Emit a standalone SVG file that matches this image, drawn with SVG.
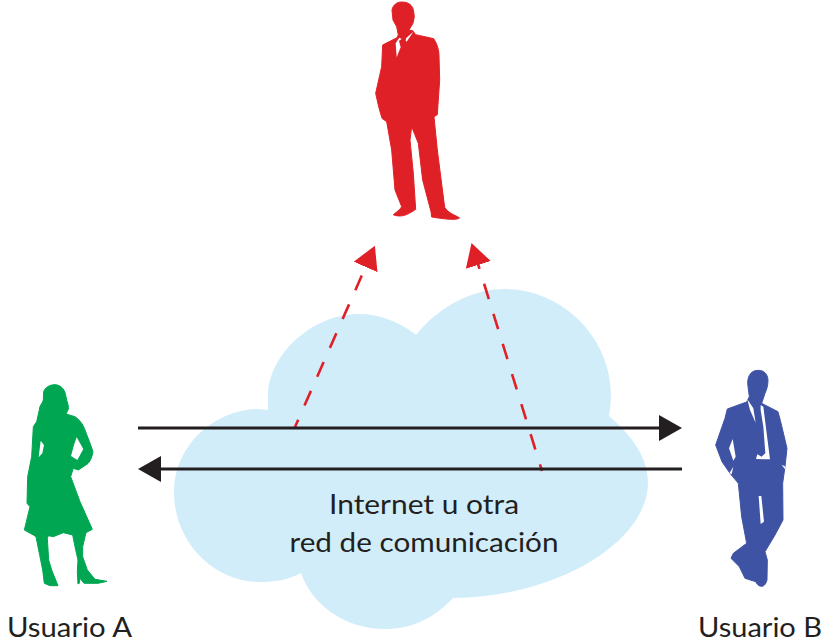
<svg xmlns="http://www.w3.org/2000/svg" width="824" height="644" viewBox="0 0 824 644">
<defs>
<marker id="hb" markerUnits="userSpaceOnUse" markerWidth="24" markerHeight="28" refX="1" refY="14" orient="auto"><path d="M0 1L23 14L0 27z" fill="#231f20"/></marker>
<marker id="hr" markerUnits="userSpaceOnUse" markerWidth="24" markerHeight="28" refX="1" refY="14" orient="auto"><path d="M0 1L23 14L0 27z" fill="#e02027"/></marker>
</defs>
<style>
text{font-family:"Lato","Liberation Sans",sans-serif;font-size:26px;fill:#231f20}
.b{fill:none;stroke:#231f20;stroke-width:3}
.r{fill:none;stroke:#e02027;stroke-width:2.6;stroke-dasharray:16 15.5}
.h{fill:#fff}
.s{stroke-width:3;stroke-linejoin:round}
</style>
<rect width="824" height="644" fill="#fff"/>
<g id="nube">
<path d="M416 335C440 305 475 289 503 289C565 289 611 340 611 395Q611 405 609 416C635 438 648 460 648 483C648 540 560 597 453 598C432 620 410 629 385 629C345 629 312 605 301 573C288 580 275 582 260 582C212 582 174 540 174 493C174 445 215 409 259 409L268 410C268 400 268 397 268 392C272 350 315 314 359 314C380 314 400 322 416 335Z" fill="#d2edfa"/>
<text x="424" y="514" text-anchor="middle" textLength="190" lengthAdjust="spacingAndGlyphs">Internet u otra</text>
<text x="424" y="552" text-anchor="middle" textLength="269" lengthAdjust="spacingAndGlyphs">red de comunicación</text>
</g>
<g id="conectores">
<line class="r" x1="295" y1="427" x2="366" y2="266" stroke-dashoffset="8" marker-end="url(#hr)"/>
<line class="r" x1="542" y1="471" x2="478" y2="264" stroke-dashoffset="9" marker-end="url(#hr)"/>
<line class="b" x1="138" y1="428" x2="660" y2="428" marker-end="url(#hb)"/>
<line class="b" x1="682" y1="469" x2="160" y2="469" marker-end="url(#hb)"/>
</g>
<g id="espia" transform="translate(350 0) scale(.3333)">
<path class="s" fill="#e02027" stroke="#e02027" d="M155 6C175 6 189 15 191 35L193 50L189 70L177 90L189 93L197 104L251 116C261 130 267 150 267 165L269 240L262 344L252 350L262 450L284 622C295 640 315 645 329 654C320 660 300 660 245 651L243 635L218 540L205 430L185 380L180 420L190 520L197 628C180 640 165 648 150 648C140 648 132 646 130 644C140 635 150 630 155 620L135 570L125 450L110 365L96 355L86 320L77 280L95 200L98 135L141 113L145 105L140 80L129 60L126 30C129 15 140 6 155 6Z"/>
<path class="h" d="M137 130L148 113L155 117L147 122L152 142L140 172ZM170 125L190 95L168 115L167 122Z"/>
</g>
<g id="usuario-a">
<g transform="translate(0 370) scale(.3333)">
<path class="s" fill="#00a651" stroke="#00a651" d="M165 44C185 45 195 60 198 80C200 95 207 105 205 118L198 132L225 140C240 150 250 165 255 180L272 225L279 245C275 265 270 275 262 282L235 300L220 295L212 320L240 395L277 478L258 488L248 530L248 560L262 600L285 628L321 634L295 640L252 640L240 625L238 640L234 642L232 605L234 570L225 530L218 495L190 488L160 500L145 497L142 505L146 570L155 600L174 647L150 647L133 640L128 600L118 550L108 500L100 495L73 480L90 410L81 400L83 320L95 260L100 170L110 155L118 120C116 110 128 100 130 90L131 65C135 52 150 44 165 44Z"/>
<path class="h" d="M122 212L132 225L127 250L116 262ZM230 202L250 237L232 270L213 258L222 225Z"/>
</g>
<text x="7" y="637" textLength="125" lengthAdjust="spacingAndGlyphs">Usuario A</text>
</g>
<g id="usuario-b">
<g transform="translate(690 360) scale(.3333)">
<path class="s" fill="#3f53a4" stroke="#3f53a4" d="M205 31C222 31 234 42 234 62C234 80 228 92 225 100L215 130L264 155L272 185L291 265L285 320L278 370L279 480L255 525L225 575L232 600L231 660C228 672 222 679 215 679C205 679 200 670 197 665L165 655L148 620L123 595L130 580L170 550L155 470L145 370L120 340L96 305L77 255L105 175L112 147L170 126L178 110L173 70C173 45 185 31 205 31Z"/>
<path class="h" d="M172 118L190 145L197 188L180 150ZM212 135L220 140L240 298L198 297L202 283L215 290L226 280L220 200L212 150ZM128 237L137 290L130 302L117 265ZM206 408L214 408L222 485L212 492ZM118 340L130 320L125 342ZM275 315L287 330L284 318Z"/>
</g>
<text x="698" y="637" textLength="124" lengthAdjust="spacingAndGlyphs">Usuario B</text>
</g>
</svg>
